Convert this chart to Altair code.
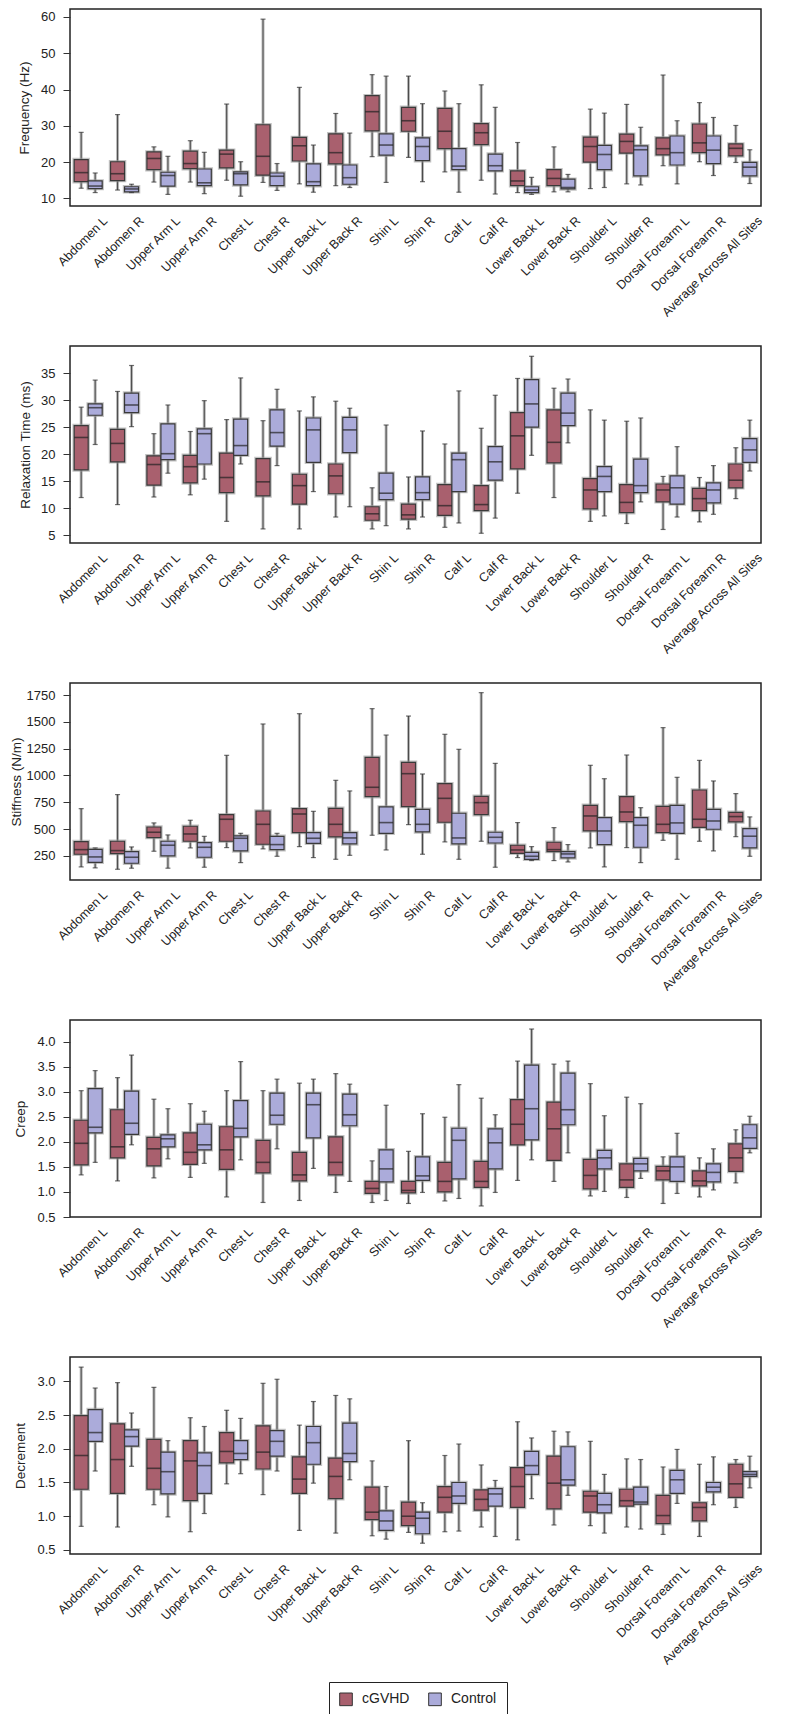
import altair as alt
import pandas as pd

SITES = ["Abdomen L", "Abdomen R", "Upper Arm L", "Upper Arm R", "Chest L", "Chest R",
         "Upper Back L", "Upper Back R", "Shin L", "Shin R", "Calf L", "Calf R",
         "Lower Back L", "Lower Back R", "Shoulder L", "Shoulder R",
         "Dorsal Forearm L", "Dorsal Forearm R", "Average Across All Sites"]
GROUPS = ["cGVHD", "Control"]
FILLS = ["#a9606e", "#ababda"]

# ---- Frequency (Hz) ----
FREQ_CG_LO = [12.8, 12.3, 14.5, 14.5, 15.0, 14.4, 14.0, 13.5, 21.5, 21.3, 17.3, 15.0, 11.6, 11.8, 12.7, 14.0, 19.0, 20.1, 19.9]
FREQ_CG_Q1 = [14.6, 14.9, 17.9, 18.2, 18.4, 16.4, 20.3, 19.5, 28.6, 28.5, 23.7, 24.8, 13.5, 13.5, 20.0, 22.5, 22.0, 22.6, 21.7]
FREQ_CG_MED = [17.1, 16.8, 21.0, 19.6, 22.2, 21.6, 24.5, 22.6, 33.9, 31.4, 28.5, 28.1, 14.8, 15.5, 24.3, 25.7, 23.7, 25.3, 23.8]
FREQ_CG_Q3 = [20.7, 20.1, 22.8, 23.0, 23.3, 30.3, 26.8, 27.8, 38.3, 35.1, 34.8, 30.6, 17.6, 17.9, 26.9, 27.7, 26.7, 30.5, 25.0]
FREQ_CG_HI = [28.2, 33.1, 24.2, 25.9, 36.0, 59.4, 40.6, 33.4, 44.1, 43.7, 39.6, 41.3, 25.4, 24.2, 34.6, 35.9, 44.0, 36.4, 30.1]
FREQ_CT_LO = [11.6, 11.6, 11.1, 11.3, 10.6, 12.2, 11.7, 13.0, 14.4, 14.6, 11.7, 11.2, 11.1, 11.8, 13.0, 13.7, 14.0, 16.3, 14.1]
FREQ_CT_Q1 = [12.7, 11.8, 13.4, 13.5, 13.7, 13.5, 13.5, 13.9, 21.9, 20.4, 17.9, 17.6, 11.6, 12.6, 17.9, 16.2, 19.2, 19.6, 16.2]
FREQ_CT_MED = [13.4, 12.6, 16.3, 14.3, 16.8, 16.1, 14.6, 15.7, 24.7, 24.3, 18.9, 19.0, 12.3, 13.0, 22.1, 23.4, 22.6, 23.3, 18.6]
FREQ_CT_Q3 = [14.8, 13.2, 17.2, 18.1, 17.3, 17.0, 19.5, 19.2, 27.8, 26.7, 23.7, 22.2, 13.2, 15.3, 24.6, 24.5, 27.2, 27.2, 19.9]
FREQ_CT_HI = [17.0, 13.9, 21.6, 22.7, 20.1, 19.6, 24.7, 28.0, 43.7, 36.1, 36.1, 35.1, 15.8, 16.6, 33.5, 29.6, 31.4, 32.3, 23.4]

# ---- Relaxation Time (ms) ----
RELAX_CG_LO = [12.0, 10.7, 12.1, 12.5, 7.6, 6.2, 6.2, 8.4, 6.2, 6.2, 6.5, 5.4, 12.8, 12.0, 7.6, 7.2, 6.1, 7.5, 11.8]
RELAX_CG_Q1 = [17.1, 18.6, 14.3, 14.7, 12.9, 12.3, 10.8, 12.7, 7.8, 8.0, 8.7, 9.6, 17.3, 18.4, 9.9, 9.2, 11.2, 9.6, 13.8]
RELAX_CG_MED = [23.1, 22.0, 18.1, 17.7, 15.7, 14.9, 14.2, 16.0, 9.0, 8.8, 10.5, 10.7, 23.4, 22.2, 13.4, 11.1, 13.4, 11.8, 15.2]
RELAX_CG_Q3 = [25.3, 24.6, 19.7, 19.8, 20.2, 19.2, 16.3, 18.2, 10.3, 10.8, 14.4, 14.2, 27.7, 28.2, 15.5, 14.4, 14.5, 13.7, 18.2]
RELAX_CG_HI = [28.7, 31.6, 23.8, 24.2, 26.4, 26.2, 28.0, 29.8, 13.8, 15.8, 21.9, 24.8, 34.0, 32.2, 28.2, 26.1, 15.9, 15.7, 21.2]
RELAX_CT_LO = [21.8, 25.1, 16.5, 15.4, 18.2, 17.9, 13.1, 10.3, 6.8, 8.4, 7.3, 8.2, 19.8, 22.1, 8.6, 11.2, 8.4, 8.9, 16.9]
RELAX_CT_Q1 = [27.2, 27.7, 19.0, 18.2, 19.8, 21.5, 18.5, 20.3, 11.6, 11.6, 13.1, 15.2, 25.0, 25.3, 13.1, 12.9, 10.8, 11.0, 18.5]
RELAX_CT_MED = [28.6, 29.1, 20.1, 23.8, 21.6, 24.0, 24.5, 24.5, 12.8, 12.9, 19.0, 18.6, 29.3, 27.6, 15.9, 14.2, 13.8, 13.4, 20.8]
RELAX_CT_Q3 = [29.3, 31.3, 25.6, 24.7, 26.5, 28.2, 26.7, 26.8, 16.5, 15.8, 20.2, 21.4, 33.8, 31.3, 17.7, 19.1, 16.0, 14.7, 22.9]
RELAX_CT_HI = [33.7, 36.4, 29.1, 29.9, 34.1, 32.0, 30.6, 28.5, 25.4, 24.3, 31.7, 30.9, 38.1, 33.9, 26.3, 26.7, 21.4, 17.9, 26.3]

# ---- Stiffness (N/m) ----
STIFF_CG_LO = [148, 126, 294, 325, 328, 316, 337, 219, 443, 542, 381, 387, 235, 207, 325, 328, 396, 387, 430]
STIFF_CG_Q1 = [266, 272, 421, 387, 387, 359, 468, 427, 803, 710, 564, 635, 275, 291, 483, 570, 468, 517, 567]
STIFF_CG_MED = [309, 300, 471, 455, 592, 545, 641, 545, 890, 1017, 787, 747, 306, 309, 623, 660, 545, 592, 617]
STIFF_CG_Q3 = [384, 387, 520, 527, 635, 669, 691, 694, 1169, 1123, 924, 806, 350, 378, 722, 803, 713, 865, 657]
STIFF_CG_HI = [691, 822, 558, 583, 1188, 1480, 1576, 955, 1623, 1554, 1384, 1772, 561, 514, 1095, 1191, 1446, 1141, 831]
STIFF_CT_LO = [139, 136, 136, 145, 188, 247, 235, 256, 306, 266, 219, 145, 207, 194, 148, 188, 219, 297, 247]
STIFF_CT_Q1 = [191, 182, 250, 238, 297, 309, 368, 362, 461, 474, 362, 371, 219, 232, 356, 331, 461, 499, 325]
STIFF_CT_MED = [241, 238, 350, 331, 415, 356, 415, 418, 561, 545, 418, 424, 247, 269, 483, 536, 558, 576, 434]
STIFF_CT_Q3 = [312, 291, 387, 374, 437, 433, 468, 468, 707, 685, 648, 471, 284, 291, 607, 607, 722, 685, 505]
STIFF_CT_HI = [325, 334, 446, 433, 461, 461, 666, 856, 1377, 1014, 1244, 1113, 337, 356, 970, 700, 983, 949, 614]

# ---- Creep ----
CREEP_CG_LO = [1.34, 1.22, 1.28, 1.29, 0.90, 0.79, 0.83, 0.99, 0.79, 0.77, 0.82, 0.72, 1.23, 1.21, 0.92, 0.89, 0.77, 0.90, 1.18]
CREEP_CG_Q1 = [1.54, 1.68, 1.52, 1.55, 1.45, 1.38, 1.22, 1.34, 0.97, 0.98, 1.00, 1.09, 1.94, 1.63, 1.06, 1.09, 1.24, 1.12, 1.41]
CREEP_CG_MED = [1.97, 1.90, 1.86, 1.79, 1.84, 1.59, 1.34, 1.59, 1.07, 1.03, 1.21, 1.21, 2.35, 2.26, 1.33, 1.24, 1.42, 1.22, 1.68]
CREEP_CG_Q3 = [2.43, 2.64, 2.09, 2.18, 2.30, 2.03, 1.79, 2.10, 1.21, 1.21, 1.59, 1.61, 2.84, 2.79, 1.65, 1.56, 1.51, 1.42, 1.96]
CREEP_CG_HI = [3.02, 3.28, 2.85, 2.76, 3.02, 3.02, 3.17, 3.36, 1.62, 1.81, 2.49, 2.87, 3.61, 3.55, 3.16, 2.89, 1.70, 1.68, 2.24]
CREEP_CT_LO = [1.59, 1.94, 1.66, 1.57, 1.64, 1.86, 1.47, 1.21, 0.83, 0.99, 0.87, 0.99, 1.64, 1.78, 1.01, 1.27, 0.97, 1.04, 1.78]
CREEP_CT_Q1 = [2.18, 2.15, 1.90, 1.84, 2.10, 2.35, 2.08, 2.32, 1.20, 1.23, 1.26, 1.46, 2.04, 2.34, 1.46, 1.42, 1.21, 1.20, 1.87]
CREEP_CT_MED = [2.29, 2.37, 2.06, 1.94, 2.27, 2.53, 2.74, 2.54, 1.46, 1.32, 2.03, 1.98, 2.66, 2.64, 1.68, 1.56, 1.50, 1.39, 2.08]
CREEP_CT_Q3 = [3.06, 3.01, 2.14, 2.35, 2.82, 2.97, 2.97, 2.95, 1.84, 1.70, 2.27, 2.26, 3.53, 3.37, 1.83, 1.67, 1.70, 1.56, 2.34]
CREEP_CT_HI = [3.42, 3.73, 2.66, 2.61, 3.60, 3.25, 3.25, 3.15, 2.73, 2.56, 3.14, 2.54, 4.25, 3.61, 2.52, 2.76, 2.17, 1.86, 2.51]

# ---- Decrement ----
DEC_CG_LO = [0.85, 0.84, 1.17, 0.77, 1.48, 1.32, 0.79, 0.75, 0.71, 0.76, 0.77, 0.84, 0.65, 0.87, 0.86, 0.84, 0.73, 0.70, 1.13]
DEC_CG_Q1 = [1.40, 1.34, 1.40, 1.23, 1.79, 1.70, 1.34, 1.26, 0.95, 0.86, 1.06, 1.09, 1.13, 1.11, 1.06, 1.15, 0.89, 0.93, 1.28]
DEC_CG_MED = [1.90, 1.84, 1.71, 1.82, 1.96, 1.95, 1.55, 1.59, 1.06, 1.00, 1.28, 1.25, 1.44, 1.49, 1.30, 1.23, 1.01, 1.13, 1.48]
DEC_CG_Q3 = [2.49, 2.37, 2.14, 2.12, 2.24, 2.34, 1.88, 1.86, 1.43, 1.21, 1.44, 1.39, 1.72, 1.89, 1.37, 1.40, 1.31, 1.20, 1.77]
DEC_CG_HI = [3.21, 2.98, 2.91, 2.46, 2.57, 2.97, 2.35, 2.79, 1.82, 2.12, 1.90, 1.76, 2.40, 2.26, 2.11, 1.85, 1.73, 1.77, 1.84]
DEC_CT_LO = [1.67, 1.74, 0.99, 1.04, 1.63, 1.67, 1.49, 1.54, 0.66, 0.60, 0.78, 0.70, 1.26, 1.31, 0.75, 0.81, 1.19, 1.17, 1.42]
DEC_CT_Q1 = [2.11, 2.04, 1.33, 1.34, 1.84, 1.89, 1.77, 1.81, 0.79, 0.74, 1.19, 1.15, 1.62, 1.46, 1.05, 1.18, 1.34, 1.36, 1.59]
DEC_CT_MED = [2.24, 2.18, 1.66, 1.75, 1.93, 2.11, 2.09, 1.93, 0.93, 0.97, 1.30, 1.33, 1.75, 1.54, 1.17, 1.21, 1.54, 1.43, 1.62]
DEC_CT_Q3 = [2.58, 2.28, 1.95, 1.94, 2.12, 2.27, 2.33, 2.38, 1.08, 1.06, 1.50, 1.41, 1.96, 2.03, 1.34, 1.43, 1.68, 1.50, 1.66]
DEC_CT_HI = [2.90, 2.53, 2.12, 2.33, 2.45, 3.03, 2.70, 2.74, 1.44, 1.20, 2.07, 1.53, 2.16, 2.25, 1.62, 1.84, 1.99, 1.88, 1.89]

# ---- axis settings ----
FREQ_TICKS = [10, 20, 30, 40, 50, 60]
RELAX_TICKS = [5, 10, 15, 20, 25, 30, 35]
STIFF_TICKS = [250, 500, 750, 1000, 1250, 1500, 1750]
CREEP_TICKS = [0.5, 1.0, 1.5, 2.0, 2.5, 3.0, 3.5, 4.0]
DEC_TICKS = [0.5, 1.0, 1.5, 2.0, 2.5, 3.0]

PLOT_W = 691
PLOT_H = 197


def make_table(cg, ct):
    rows = []
    for grp, stats in (("cGVHD", cg), ("Control", ct)):
        lo, q1, med, q3, hi = stats
        for i, site in enumerate(SITES):
            rows.append({"site": site, "group": grp, "lo": lo[i], "q1": q1[i],
                         "med": med[i], "q3": q3[i], "hi": hi[i]})
    return pd.DataFrame(rows)


LEGEND = alt.Legend(
    orient="none", legendX=259, legendY=1673, direction="horizontal",
    symbolType="square", symbolSize=160, symbolStrokeColor="#333333",
    symbolStrokeWidth=1, symbolOpacity=1, labelFontSize=14, labelColor="#222222",
    labelOffset=9, columnPadding=16, padding=10, strokeColor="#222222",
)


def panel(df, title, domain, ticks, fmt, title_x):
    xaxis = alt.Axis(
        title=None, labelAngle=-45, labelAlign="right", labelBaseline="top",
        labelFontSize=12.5, labelPadding=8, labelOffset=13, labelLimit=300,
        ticks=False, domain=False, labelColor="#222222",
    )
    yaxis = alt.Axis(
        title=title, values=ticks, format=fmt, grid=False, domain=False,
        tickSize=7, tickColor="#333333", tickWidth=1, labelFontSize=13,
        labelPadding=8, labelColor="#222222", titleFontSize=13.5,
        titleFontWeight="normal", titleColor="#222222", titleX=title_x,
        titleBaseline="middle",
    )
    ysc = alt.Scale(domain=domain, nice=False, zero=False)

    def Y(field):
        return alt.Y(field + ":Q", scale=ysc, axis=yaxis, title=title)

    base = alt.Chart(df).encode(
        x=alt.X("site:N", sort=SITES, title=None,
                scale=alt.Scale(paddingInner=0.23, paddingOuter=0.115), axis=xaxis),
        xOffset=alt.XOffset("group:N", sort=GROUPS,
                            scale=alt.Scale(paddingInner=0, paddingOuter=0)),
    )
    whisk_halo = base.mark_rule(color="#b8b8b8", strokeWidth=3).encode(y=Y("lo"), y2="hi")
    whisk = base.mark_rule(color="#4a4a4a", strokeWidth=1).encode(y=Y("lo"), y2="hi")
    box_halo = base.mark_bar(fillOpacity=0, stroke="#9a9a9a", strokeWidth=3.5,
                             strokeOpacity=0.6).encode(y=Y("q1"), y2="q3")
    box = base.mark_bar(stroke="#3a3a3a", strokeWidth=1.2).encode(
        y=Y("q1"), y2="q3",
        color=alt.Color("group:N", sort=GROUPS, title=None,
                        scale=alt.Scale(domain=GROUPS, range=FILLS), legend=LEGEND),
    )
    med = base.mark_tick(color="#222222", thickness=1.6, size=14).encode(y=Y("med"))
    cap_lo = base.mark_tick(color="#333333", thickness=1.2, size=5).encode(y=Y("lo"))
    cap_hi = base.mark_tick(color="#333333", thickness=1.2, size=5).encode(y=Y("hi"))
    return alt.layer(whisk_halo, whisk, box_halo, box, med, cap_lo, cap_hi).properties(
        width=PLOT_W, height=PLOT_H)


p1 = panel(make_table((FREQ_CG_LO, FREQ_CG_Q1, FREQ_CG_MED, FREQ_CG_Q3, FREQ_CG_HI),
                      (FREQ_CT_LO, FREQ_CT_Q1, FREQ_CT_MED, FREQ_CT_Q3, FREQ_CT_HI)),
           "Frequency (Hz)", [7.9, 62.2], FREQ_TICKS, "d", -46)
p2 = panel(make_table((RELAX_CG_LO, RELAX_CG_Q1, RELAX_CG_MED, RELAX_CG_Q3, RELAX_CG_HI),
                      (RELAX_CT_LO, RELAX_CT_Q1, RELAX_CT_MED, RELAX_CT_Q3, RELAX_CT_HI)),
           "Relaxation Time (ms)", [3.6, 40.0], RELAX_TICKS, "d", -45)
p3 = panel(make_table((STIFF_CG_LO, STIFF_CG_Q1, STIFF_CG_MED, STIFF_CG_Q3, STIFF_CG_HI),
                      (STIFF_CT_LO, STIFF_CT_Q1, STIFF_CT_MED, STIFF_CT_Q3, STIFF_CT_HI)),
           "Stiffness (N/m)", [26, 1862], STIFF_TICKS, "d", -54)
p4 = panel(make_table((CREEP_CG_LO, CREEP_CG_Q1, CREEP_CG_MED, CREEP_CG_Q3, CREEP_CG_HI),
                      (CREEP_CT_LO, CREEP_CT_Q1, CREEP_CT_MED, CREEP_CT_Q3, CREEP_CT_HI)),
           "Creep", [0.5, 4.43], CREEP_TICKS, ".1f", -50)
p5 = panel(make_table((DEC_CG_LO, DEC_CG_Q1, DEC_CG_MED, DEC_CG_Q3, DEC_CG_HI),
                      (DEC_CT_LO, DEC_CT_Q1, DEC_CT_MED, DEC_CT_Q3, DEC_CT_HI)),
           "Decrement", [0.44, 3.36], DEC_TICKS, ".1f", -50)

chart = (
    alt.vconcat(p1, p2, p3, p4, p5, spacing=24)
    .resolve_scale(y="independent")
    .properties(padding={"left": 0, "top": 0, "right": 5, "bottom": 0})
    .configure(font="Liberation Sans")
    .configure_view(stroke="#222222", strokeWidth=1.5)
)

chart.save("out.html", embed_options={"renderer": "svg", "actions": False})
